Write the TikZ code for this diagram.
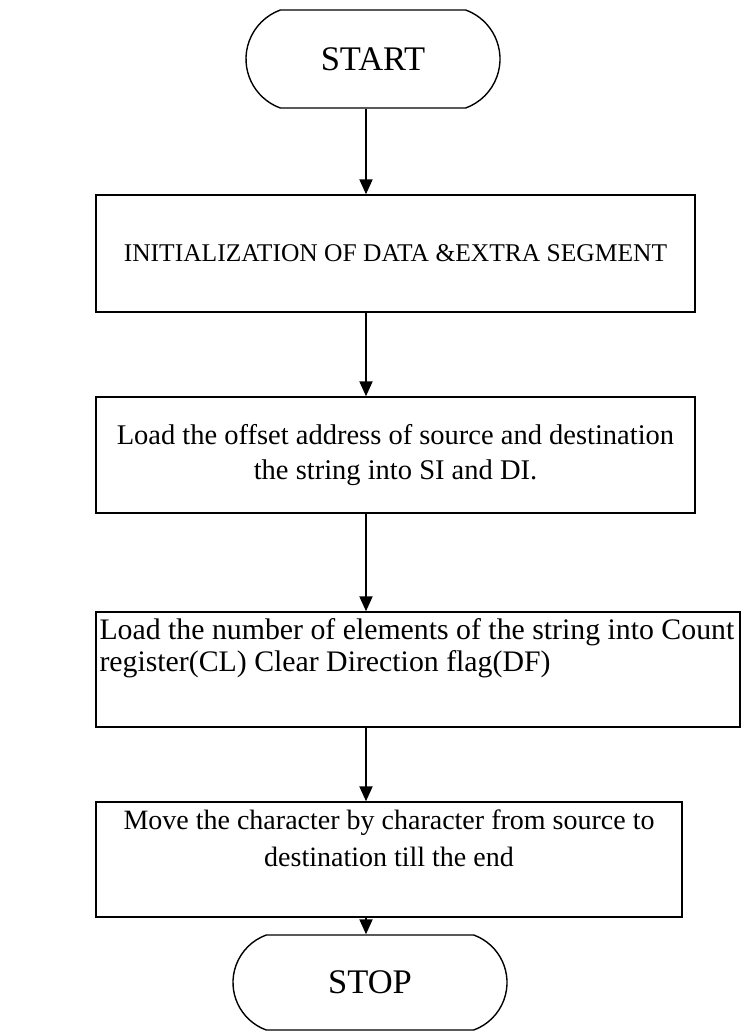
\documentclass[tikz,border=0pt]{standalone}
\usepackage{fontspec}
\setmainfont{Liberation Serif}
\usetikzlibrary{positioning,arrows.meta,shapes.misc}

\tikzset{
  stepbox/.style={draw,line width=1.4pt,inner sep=0pt},
  termbox/.style={draw,line width=1.4pt,rounded rectangle,
    rounded rectangle arc length=140,inner sep=0pt,font=\fontsize{34.5}{40}\selectfont},
  arr/.style={line width=2pt,-{Triangle[length=15pt,width=13pt]}}
}

\begin{document}
\begin{tikzpicture}[x=1pt,y=-1pt]
\useasboundingbox (0,0) rectangle (742,1034);
\coordinate (ax) at (366,0);
% terminals
\node[termbox,minimum width=254pt,minimum height=98pt] (start) at (373,59) {START};
\node[termbox,minimum width=274pt,minimum height=95pt] (stop) at (370,982.5) {STOP};
% process steps
\node[stepbox,minimum width=599pt,minimum height=117pt,font=\fontsize{25.5}{30}\selectfont]
  (init) at (395.5,253.5) {INITIALIZATION OF DATA \&EXTRA SEGMENT};
\node[stepbox,minimum width=599pt,minimum height=116pt,align=center,
  font=\fontsize{28.5}{35}\selectfont]
  (offs) at (395.5,455) {Load the offset address of source and destination\\the string into SI and DI.};
\node[stepbox,minimum width=644pt,minimum height=115pt] (cnt) at (418,669.5) {};
\node[anchor=north west,inner sep=0pt,align=left,font=\fontsize{29.8}{32}\selectfont]
  (cnttxt) at ([xshift=4pt,yshift=-7pt]cnt.north west)
  {Load the number of elements of the string into Count\\register(CL) Clear Direction flag(DF)};
\node[stepbox,minimum width=586pt,minimum height=115pt] (move) at (389,859.5) {};
\node[align=center,inner sep=0pt,font=\fontsize{28}{37}\selectfont]
  (movetxt) at (389,838.5) {Move the character by character from source to\\destination till the end};
% connectors
\draw[arr] (start.south -| ax) -- (init.north -| ax);
\draw[arr] (init.south -| ax) -- (offs.north -| ax);
\draw[arr] (offs.south -| ax) -- (cnt.north -| ax);
\draw[arr] (cnt.south -| ax) -- (move.north -| ax);
\draw[arr] (move.south -| ax) -- (stop.north -| ax);
\end{tikzpicture}
\end{document}
